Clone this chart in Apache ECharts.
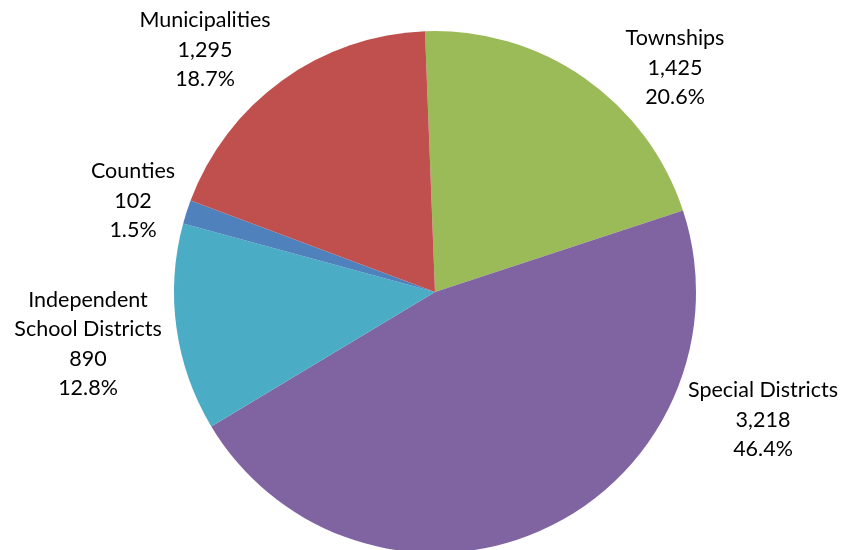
<!DOCTYPE html>
<html>
<head>
<meta charset="utf-8">
<script src="https://cdn.jsdelivr.net/npm/echarts@6/dist/echarts.min.js"></script>
<style>
  html, body { margin: 0; padding: 0; background: #fff; }
  #chart { width: 843px; height: 550px; }
</style>
</head>
<body>
<div id="chart"></div>
<script>
// Local government units by type
const categories = ['Townships', 'Special Districts', 'Independent\nSchool Districts', 'Counties', 'Municipalities'];
const counts = [1425, 3218, 890, 102, 1295];
const colors = ['#9BBB59', '#8064A2', '#4BACC6', '#4F81BD', '#C0504D'];

// Label block centres (px), one per slice
const labelAnchors = [[675, 68], [763, 420], [88, 344], [133, 201], [205, 50]];

const chart = echarts.init(document.getElementById('chart'), null, { renderer: 'canvas' });

chart.setOption({
  backgroundColor: '#ffffff',
  animation: false,
  series: [{
    type: 'pie',
    center: [435, 292],
    radius: 261,
    startAngle: 92.2,
    clockwise: true,
    avoidLabelOverlap: false,
    data: categories.map((name, i) => ({
      name: name,
      value: counts[i],
      itemStyle: { color: colors[i] }
    })),
    itemStyle: { borderWidth: 0 },
    label: {
      show: true,
      position: 'outside',
      color: '#000',
      fontFamily: 'Lato, "Open Sans", sans-serif',
      fontSize: 21.5,
      lineHeight: 29.5,
      align: 'center',
      formatter: p => p.name + '\n' + p.value.toLocaleString('en-US') + '\n' + p.percent.toFixed(1) + '%'
    },
    labelLine: { show: false },
    labelLayout: p => ({
      x: labelAnchors[p.dataIndex][0],
      y: labelAnchors[p.dataIndex][1],
      align: 'center',
      verticalAlign: 'middle'
    }),
    emphasis: { disabled: true }
  }]
});
</script>
</body>
</html>
